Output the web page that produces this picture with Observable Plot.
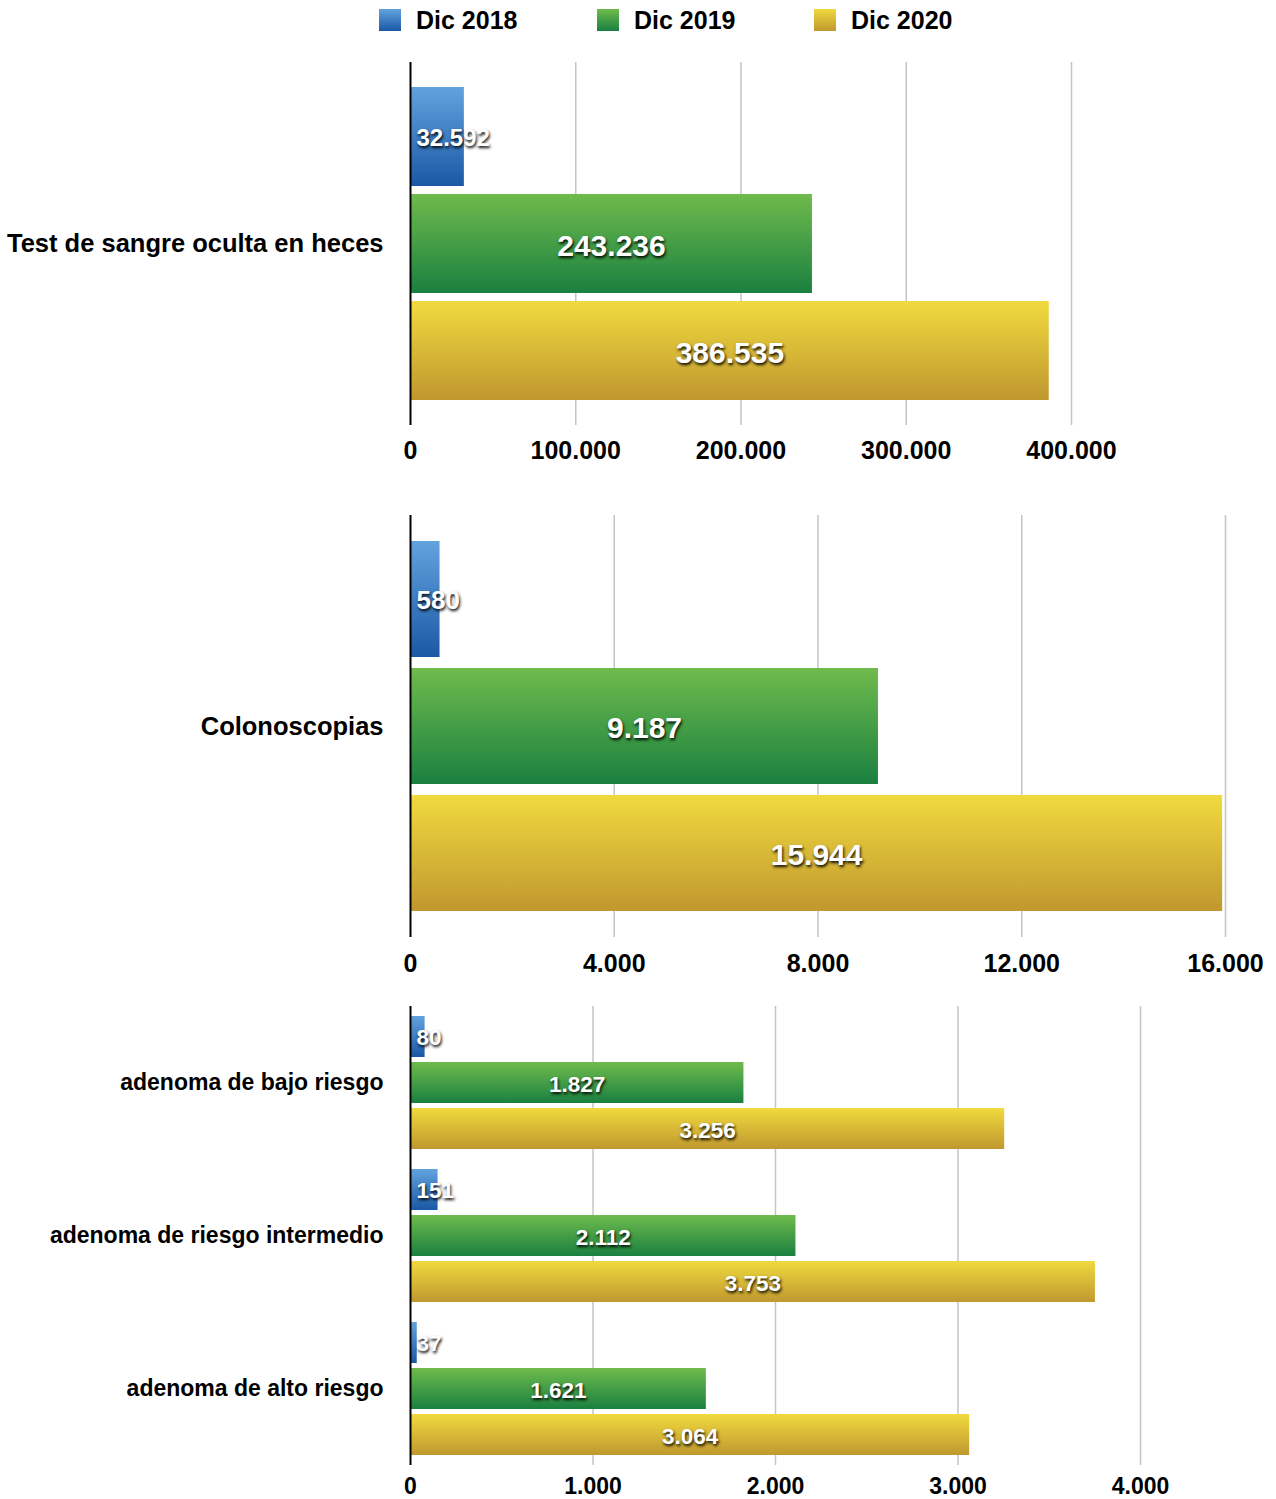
<!DOCTYPE html>
<html>
<head>
<meta charset="utf-8">
<script src="https://cdn.jsdelivr.net/npm/d3@7"></script>
<script src="https://cdn.jsdelivr.net/npm/@observablehq/plot@0.6"></script>
<style>
  html, body { margin: 0; padding: 0; background: #fff; }
  body { width: 1276px; height: 1499px; position: relative; overflow: hidden;
         font-family: "Liberation Sans", Arial, Helvetica, sans-serif; }
  #legend { position: absolute; top: 0; left: 0; width: 1276px; height: 40px; }
  .item { position: absolute; top: 7px; display: flex; align-items: center; }
  .sw { width: 22px; height: 22px; margin-right: 15px; }
  .lab { font-size: 25px; font-weight: bold; color: #000; line-height: 26px; }
  .panel { position: absolute; left: 0; }
  .panel svg { overflow: visible; }
  g.vals text { text-shadow: 1px 2px 3px rgba(0,0,0,0.95); }
</style>
</head>
<body>
<svg width="0" height="0" style="position:absolute">
  <defs>
    <linearGradient id="gBlue" x1="0" y1="0" x2="0" y2="1">
      <stop offset="0" stop-color="#62a3de"/>
      <stop offset="1" stop-color="#1b58a5"/>
    </linearGradient>
    <linearGradient id="gGreen" x1="0" y1="0" x2="0" y2="1">
      <stop offset="0" stop-color="#6fbb4c"/>
      <stop offset="1" stop-color="#1a8040"/>
    </linearGradient>
    <linearGradient id="gYellow" x1="0" y1="0" x2="0" y2="1">
      <stop offset="0" stop-color="#f0da3e"/>
      <stop offset="1" stop-color="#c0982f"/>
    </linearGradient>
  </defs>
</svg>
<div id="legend"></div>
<div id="p1" class="panel"></div>
<div id="p2" class="panel"></div>
<div id="p3" class="panel"></div>
<script>
// ---------- data ----------
const series = ["Dic 2018", "Dic 2019", "Dic 2020"];

const testCats = ["Test de sangre oculta en heces"];
const test2018 = [32592];
const test2019 = [243236];
const test2020 = [386535];
const testTicks = [0, 100000, 200000, 300000, 400000];

const colonCats = ["Colonoscopias"];
const colon2018 = [580];
const colon2019 = [9187];
const colon2020 = [15944];
const colonTicks = [0, 4000, 8000, 12000, 16000];

const adenomaCats = ["adenoma de bajo riesgo", "adenoma de riesgo intermedio", "adenoma de alto riesgo"];
const adenoma2018 = [80, 151, 37];
const adenoma2019 = [1827, 2112, 1621];
const adenoma2020 = [3256, 3753, 3064];
const adenomaTicks = [0, 1000, 2000, 3000, 4000];

// ---------- styles ----------
const fills = ["url(#gBlue)", "url(#gGreen)", "url(#gYellow)"];
const swatchCss = [
  "linear-gradient(#62a3de, #1b58a5)",
  "linear-gradient(#6fbb4c, #1a8040)",
  "linear-gradient(#f0da3e, #c0982f)"
];
const legendLefts = [379, 597, 814];

const locale = d3.formatLocale({decimal: ",", thousands: ".", grouping: [3], currency: ["", "€"]});
const fmt = locale.format(",d");
const W = 1276;
const FONT = "'Liberation Sans', Arial, Helvetica, sans-serif";

// legend
const legend = document.getElementById("legend");
series.forEach((s, i) => {
  const it = document.createElement("div");
  it.className = "item";
  it.style.left = legendLefts[i] + "px";
  it.innerHTML = `<div class="sw" style="background:${swatchCss[i]}"></div><div class="lab">${s}</div>`;
  legend.appendChild(it);
});

function rowsOf(cats, a, b, c) {
  const rows = [];
  cats.forEach((cat, i) => {
    rows.push({cat, series: series[0], v: a[i]});
    rows.push({cat, series: series[1], v: b[i]});
    rows.push({cat, series: series[2], v: c[i]});
  });
  return rows;
}

function panel(el, cfg) {
  const {rows, cats, ticks, top, height, marginTop, marginBottom, marginRight,
         tickPad, tickFont, valFont, smallFont, catFont, pIn, pOut} = cfg;
  const xMax = ticks[ticks.length - 1];
  const plotW = W - 410 - marginRight;
  const fits = d => (d.v / xMax) * plotW > fmt(d.v).length * valFont * 0.56 + 10;
  const inside = rows.filter(fits);
  const outside = rows.filter(d => !fits(d));
  const chart = Plot.plot({
    width: W,
    height,
    marginLeft: 410,
    marginRight,
    marginTop,
    marginBottom,
    style: {fontFamily: FONT, background: "transparent", color: "#000", overflow: "visible"},
    x: {domain: [0, xMax]},
    y: {domain: series, axis: null, paddingInner: pIn, paddingOuter: pOut},
    fy: {domain: cats, padding: 0},
    color: {domain: series, range: fills},
    marks: [
      Plot.gridX({ticks: ticks.filter(t => t > 0), stroke: "#c4c4c4", strokeOpacity: 1, strokeWidth: 1.5}),
      Plot.barX(rows, {fy: "cat", y: "series", x: "v", fill: "series"}),
      Plot.ruleX([0], {stroke: "#000", strokeWidth: 2}),
      Plot.text(inside, {fy: "cat", y: "series", x: d => d.v / 2, dy: 2, text: d => fmt(d.v),
        fill: "white", fontSize: valFont, fontWeight: "bold", className: "vals"}),
      Plot.text(outside, {fy: "cat", y: "series", x: () => 0, dx: 6, dy: 1, textAnchor: "start",
        text: d => fmt(d.v), fill: "white", fontSize: smallFont, fontWeight: "bold", className: "vals"}),
      Plot.axisX({ticks, tickSize: 0, tickPadding: tickPad, tickFormat: fmt, label: null,
        fontSize: tickFont, fontWeight: "bold"}),
      Plot.axisFy({anchor: "left", label: null, tickSize: 0, tickPadding: 27, fontSize: catFont, fontWeight: "bold"})
    ]
  });
  el.style.top = top + "px";
  el.appendChild(chart);
  d3.select(chart).selectAll("g[fill='white']").classed("vals", true);
}

panel(document.getElementById("p1"), {
  rows: rowsOf(testCats, test2018, test2019, test2020), cats: testCats, ticks: testTicks,
  top: 50, height: 430, marginTop: 12, marginBottom: 55, marginRight: 205,
  tickPad: 16, tickFont: 25, valFont: 30, smallFont: 24, catFont: 25.5, pIn: 0.074, pOut: 0.218
});
panel(document.getElementById("p2"), {
  rows: rowsOf(colonCats, colon2018, colon2019, colon2020), cats: colonCats, ticks: colonTicks,
  top: 480, height: 505, marginTop: 35, marginBottom: 48, marginRight: 51,
  tickPad: 17, tickFont: 25, valFont: 30, smallFont: 26, catFont: 25.5, pIn: 0.09, pOut: 0.2
});
panel(document.getElementById("p3"), {
  rows: rowsOf(adenomaCats, adenoma2018, adenoma2019, adenoma2020), cats: adenomaCats, ticks: adenomaTicks,
  top: 985, height: 514, marginTop: 20, marginBottom: 33, marginRight: 136,
  tickPad: 12, tickFont: 23, valFont: 22.5, smallFont: 22.5, catFont: 23, pIn: 0.1, pOut: 0.2
});
</script>
</body>
</html>
